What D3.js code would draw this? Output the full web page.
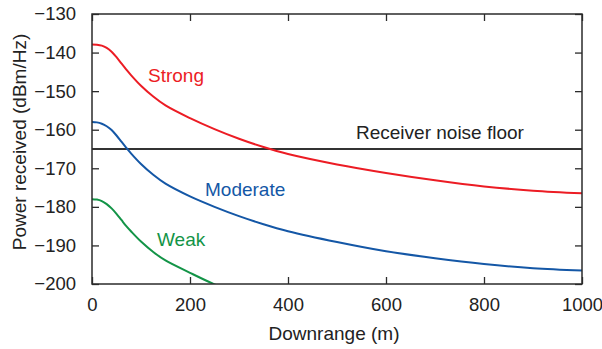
<!DOCTYPE html>
<html>
<head>
<meta charset="utf-8">
<script src="https://cdn.jsdelivr.net/npm/d3@7"></script>
<style>
  html, body { margin: 0; padding: 0; background: #fff; }
  svg { display: block; font-family: "Liberation Sans", Arial, sans-serif; }
</style>
</head>
<body>
<svg id="chart" width="602" height="349"></svg>
<script>
// ---- data ----
const downrange = [0, 10, 20, 30, 40, 50, 60, 70, 80, 100, 125, 150, 200, 250, 300, 350, 400, 500, 600, 700, 800, 900, 1000];
const strong   = [-137.9, -137.95, -138.2, -138.8, -139.8, -141.2, -142.8, -144.4, -145.9, -148.6, -151.4, -153.7, -157.0, -159.85, -162.35, -164.5, -166.3, -169.0, -171.2, -173.1, -174.7, -175.8, -176.5];
const moderate = [-158.0, -158.1, -158.45, -159.1, -160.1, -161.5, -163.1, -164.7, -166.2, -168.9, -171.7, -174.0, -177.3, -180.0, -182.4, -184.5, -186.3, -189.1, -191.5, -193.3, -194.8, -195.9, -196.5];
const weakRange = [0, 10, 20, 30, 40, 50, 60, 70, 80, 100, 125, 150, 200, 250, 300];
const weak     = [-178.0, -178.1, -178.5, -179.3, -180.4, -181.8, -183.4, -185.0, -186.4, -189.0, -191.7, -193.9, -197.1, -200.1, -202.6];
const noiseFloor = -165;
const xTicks = [0, 200, 400, 600, 800, 1000];
const yTicks = [-130, -140, -150, -160, -170, -180, -190, -200];
const seriesNames = ["Strong", "Moderate", "Weak"];

// ---- layout ----
const W = 602, H = 349;
const m = { left: 92, right: 20, top: 14, bottom: 65 };
const svg = d3.select("#chart");
const x = d3.scaleLinear().domain([0, 1000]).range([m.left, W - m.right]);
const y = d3.scaleLinear().domain([-200, -130]).range([H - m.bottom, m.top]);
const axisColor = "#2b2b2b";
const fs = "19px";
const tickFs = "18.5px";

svg.append("defs").append("clipPath").attr("id", "clip")
  .append("rect").attr("x", m.left).attr("y", m.top)
  .attr("width", W - m.left - m.right).attr("height", H - m.top - m.bottom);

const line = d3.line().x(d => x(d[0])).y(d => y(d[1])).curve(d3.curveCatmullRom.alpha(0.5));
const series = [
  { name: seriesNames[0], xs: downrange, ys: strong, color: "#ec1c24", lx: 148, ly: 82 },
  { name: seriesNames[1], xs: downrange, ys: moderate, color: "#1457a6", lx: 205, ly: 196 },
  { name: seriesNames[2], xs: weakRange, ys: weak, color: "#139447", lx: 157, ly: 246 }
];

const plot = svg.append("g").attr("clip-path", "url(#clip)");
// noise floor
plot.append("line")
  .attr("x1", x(0)).attr("x2", x(1000))
  .attr("y1", y(noiseFloor)).attr("y2", y(noiseFloor))
  .attr("stroke", "#333").attr("stroke-width", 2);

series.forEach(s => {
  plot.append("path")
    .datum(s.xs.map((v, i) => [v, s.ys[i]]))
    .attr("d", line)
    .attr("fill", "none")
    .attr("stroke", s.color)
    .attr("stroke-width", 2);
  svg.append("text").attr("x", s.lx).attr("y", s.ly)
    .attr("fill", s.color).style("font-size", fs).text(s.name);
});

svg.append("text").attr("x", 356).attr("y", 139)
  .attr("fill", "#222").style("font-size", fs).text("Receiver noise floor");

// axes (inward ticks on all sides)
const tl = 7;
function styleAxis(g) {
  g.select(".domain").remove();
  g.selectAll(".tick line").attr("stroke", axisColor).attr("stroke-width", 1.3);
  g.selectAll(".tick text").attr("fill", "#222").style("font-size", tickFs).style("font-family", "Liberation Sans, Arial, sans-serif");
}
svg.append("g").attr("transform", `translate(0,${H - m.bottom})`)
  .call(d3.axisBottom(x).tickValues(xTicks).tickSizeInner(-tl).tickSizeOuter(0).tickPadding(14).tickFormat(d3.format("d")))
  .call(styleAxis);
svg.append("g").attr("transform", `translate(0,${m.top})`)
  .call(d3.axisTop(x).tickValues(xTicks).tickSizeInner(-tl).tickSizeOuter(0).tickFormat(""))
  .call(styleAxis);
svg.append("g").attr("transform", `translate(${m.left},0)`)
  .call(d3.axisLeft(y).tickValues(yTicks).tickSizeInner(-tl).tickSizeOuter(0).tickPadding(16)
    .tickFormat(d => d3.format("d")(d).replace("-", "\u2212")))
  .call(styleAxis);
svg.append("g").attr("transform", `translate(${W - m.right},0)`)
  .call(d3.axisRight(y).tickValues(yTicks).tickSizeInner(-tl).tickSizeOuter(0).tickFormat(""))
  .call(styleAxis);

// frame
svg.append("rect").attr("x", m.left).attr("y", m.top)
  .attr("width", W - m.left - m.right).attr("height", H - m.top - m.bottom)
  .attr("fill", "none").attr("stroke", axisColor).attr("stroke-width", 1.5);

// axis titles
svg.append("text").attr("x", (m.left + W - m.right) / 2 - 3).attr("y", 340)
  .attr("text-anchor", "middle").attr("fill", "#222").style("font-size", fs).text("Downrange (m)");
svg.append("text").attr("transform", `translate(26,142) rotate(-90)`)
  .attr("text-anchor", "middle").attr("fill", "#222").style("font-size", fs).text("Power received (dBm/Hz)");
</script>
</body>
</html>
